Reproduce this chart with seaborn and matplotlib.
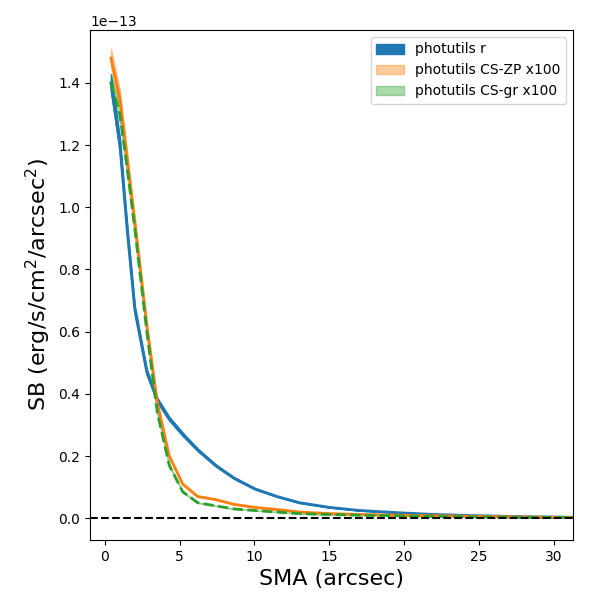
import numpy as np
import pandas as pd
import seaborn as sns
import matplotlib
matplotlib.use("Agg")
import matplotlib.pyplot as plt

sma = [0.4, 1.0, 1.5, 2.0, 2.8, 3.5, 4.3, 5.2, 6.2, 7.4, 8.6, 10, 11.5, 13, 15, 17, 19.5, 22, 25, 28, 31.5]
sb_r = [1.40, 1.20, 0.92, 0.67, 0.47, 0.38, 0.32, 0.27, 0.22, 0.17, 0.13, 0.095, 0.07, 0.05, 0.035,
        0.025, 0.018, 0.012, 0.008, 0.005, 0.003]
sb_zp = [1.48, 1.35, 1.15, 0.95, 0.62, 0.37, 0.20, 0.11, 0.07, 0.06, 0.045, 0.035, 0.028, 0.02,
         0.015, 0.012, 0.01, 0.008, 0.006, 0.004, 0.002]
sb_gr = [1.40, 1.30, 1.12, 0.93, 0.60, 0.34, 0.17, 0.085, 0.05, 0.04, 0.03, 0.025, 0.02, 0.015,
         0.012, 0.01, 0.008, 0.006, 0.004, 0.003, 0.002]
err_frac = 0.02

df = pd.DataFrame({"sma": sma,
                   "r": np.array(sb_r) * 1e-13,
                   "zp": np.array(sb_zp) * 1e-13,
                   "gr": np.array(sb_gr) * 1e-13})

fig, ax = plt.subplots(figsize=(6, 6), dpi=100)
specs = [("r", "C0", "-", "photutils r", 1.0),
         ("zp", "C1", "-", "photutils CS-ZP x100", 0.4),
         ("gr", "C2", "--", "photutils CS-gr x100", 0.4)]
for col, c, ls, lab, a in specs:
    y = df[col]
    ax.fill_between(df["sma"], y * (1 - err_frac), y * (1 + err_frac), color=c, alpha=a, label=lab)
    sns.lineplot(data=df, x="sma", y=col, color=c, linestyle=ls, linewidth=2, ax=ax)

ax.axhline(0, color="k", linestyle="--")
ax.set_xlim(-1, 31.3)
ax.set_ylim(-0.07e-13, 1.57e-13)
ax.set_xlabel("SMA (arcsec)", fontsize=16)
ax.set_ylabel(r"SB (erg/s/cm$^2$/arcsec$^2$)", fontsize=16)
ax.legend(loc="upper right")
fig.subplots_adjust(left=0.15, right=0.955, top=0.95, bottom=0.1)
fig.savefig("out.png")
